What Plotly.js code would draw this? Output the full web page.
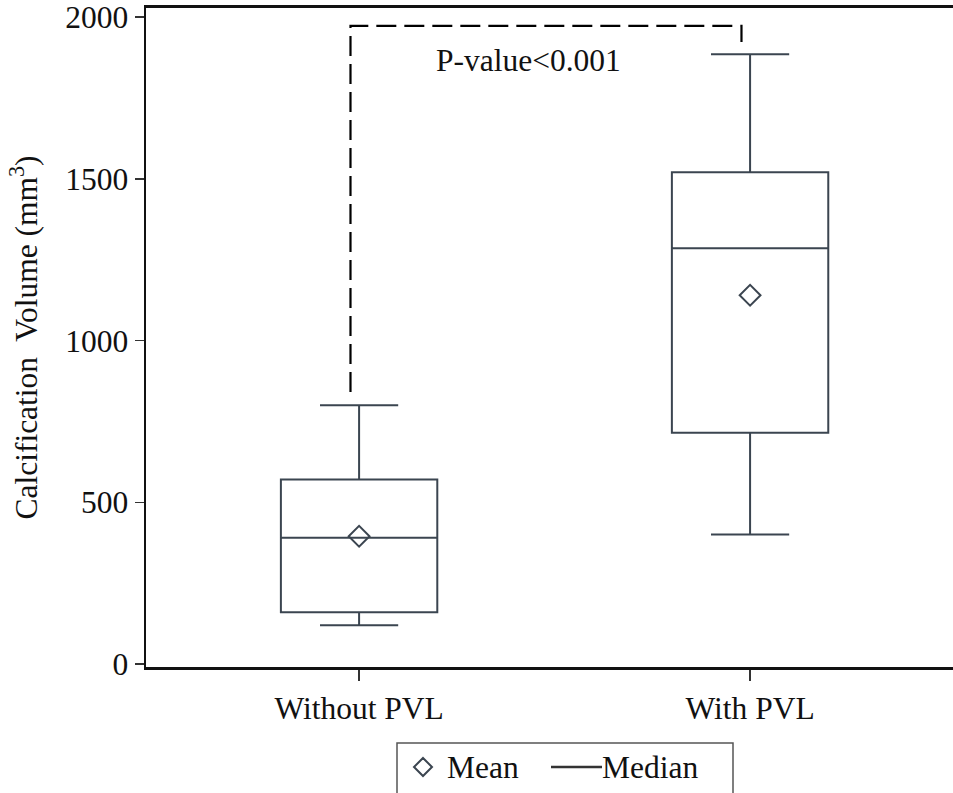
<!DOCTYPE html>
<html>
<head>
<meta charset="utf-8">
<script src="https://cdn.plot.ly/plotly-3.0.1.min.js"></script>
<style>html,body{margin:0;padding:0;background:#fff;}#chart{width:953px;height:793px;}</style>
</head>
<body>
<div id="chart"></div>
<script>
// Data
const categories = ["Without PVL", "With PVL"];
const lowerWhisker = [120, 400];
const q1 = [160, 715];
const median = [390, 1285];
const q3 = [570, 1520];
const upperWhisker = [800, 1885];
const mean = [395, 1140];
const yTicks = [0, 500, 1000, 1500, 2000];
const pText = "P-value<0.001";
const legendLabels = ["Mean", "Median"];
// bracket heights (data units)
const bracketTop = 1973;
const bracketLeftBottom = 841;
const bracketRightBottom = 1923;

const pos = categories.map((c, i) => i);
const boxColor = "#3b4550";
const fontFam = "Liberation Serif";
const fs = 31.5;

const traces = [];
categories.forEach((c, i) => {
  traces.push({
    type: "box",
    x: [pos[i]],
    q1: [q1[i]], median: [median[i]], q3: [q3[i]],
    lowerfence: [lowerWhisker[i]], upperfence: [upperWhisker[i]],
    width: 0.4,
    whiskerwidth: 0.5,
    fillcolor: "rgba(255,255,255,0)",
    line: {color: boxColor, width: 2},
    showlegend: false,
    hoverinfo: "skip"
  });
});
traces.push({
  type: "scatter", mode: "markers", name: legendLabels[0], showlegend: false,
  x: pos, y: mean,
  marker: {symbol: "diamond-open", size: 16, color: boxColor, line: {width: 2, color: boxColor}}
});
const off = -0.022;
traces.push({
  type: "scatter", mode: "lines", showlegend: false,
  x: [pos[0] + off, pos[0] + off, pos[1] + off, pos[1] + off],
  y: [bracketLeftBottom, bracketTop, bracketTop, bracketRightBottom],
  line: {color: "#000", width: 2.2, dash: "20px,8px"},
  hoverinfo: "skip"
});

// manual legend geometry (paper coords; plot area 146..953 x, 8..667 y)
const px = v => (v - 146) / 807;
const py = v => (667 - v) / 659;
const cy = py(767), dcx = 9 / 807, dcy = 9 / 659, dxc = px(423);
const diamondPath = `M ${dxc},${cy + dcy} L ${dxc + dcx},${cy} L ${dxc},${cy - dcy} L ${dxc - dcx},${cy} Z`;

const layout = {
  width: 953, height: 793,
  margin: {l: 146, r: 0, t: 8, b: 126},
  paper_bgcolor: "#fff", plot_bgcolor: "#fff",
  font: {family: fontFam, size: fs, color: "#111"},
  showlegend: false,
  xaxis: {
    range: [-0.545, 1.519],
    tickvals: pos, ticktext: categories,
    showline: true, linecolor: "#111", linewidth: 3, mirror: true,
    ticks: "outside", ticklen: 11, tickwidth: 1.5, tickcolor: "#333",
    showgrid: false, zeroline: false,
    tickfont: {family: fontFam, size: fs, color: "#111"}
  },
  yaxis: {
    range: [-9.3, 2028],
    tickvals: yTicks, ticktext: yTicks.map(String),
    showline: true, linecolor: "#111", linewidth: 2.5,
    ticks: "outside", ticklen: 9, tickwidth: 1.5, tickcolor: "#333",
    showgrid: false, zeroline: false, ticklabeloverflow: "allow",
    tickfont: {family: fontFam, size: fs, color: "#111"},
    title: {text: "Calcification\u00a0 Volume (mm<sup>3</sup>)", font: {family: fontFam, size: fs, color: "#111"}, standoff: 18}
  },
  shapes: [
    {type: "rect", xref: "paper", yref: "paper", x0: px(397), x1: px(733), y0: py(743), y1: py(810),
     line: {color: "#555", width: 1.5}, fillcolor: "rgba(0,0,0,0)"},
    {type: "path", xref: "paper", yref: "paper", path: diamondPath, line: {color: boxColor, width: 2}},
    {type: "line", xref: "paper", yref: "paper", x0: px(551), x1: px(602), y0: cy, y1: cy,
     line: {color: "#333", width: 2.5}}
  ],
  annotations: [
    {x: 0.432, y: 1867, xref: "x", yref: "y", text: pText, showarrow: false,
     font: {family: fontFam, size: fs, color: "#111"}},
    {x: px(445), y: cy, xref: "paper", yref: "paper", xanchor: "left", yanchor: "middle",
     text: legendLabels[0], showarrow: false, font: {family: fontFam, size: fs, color: "#111"}},
    {x: px(600), y: cy, xref: "paper", yref: "paper", xanchor: "left", yanchor: "middle",
     text: legendLabels[1], showarrow: false, font: {family: fontFam, size: fs, color: "#111"}}
  ]
};

Plotly.newPlot("chart", traces, layout, {displayModeBar: false, staticPlot: true});
</script>
</body>
</html>
